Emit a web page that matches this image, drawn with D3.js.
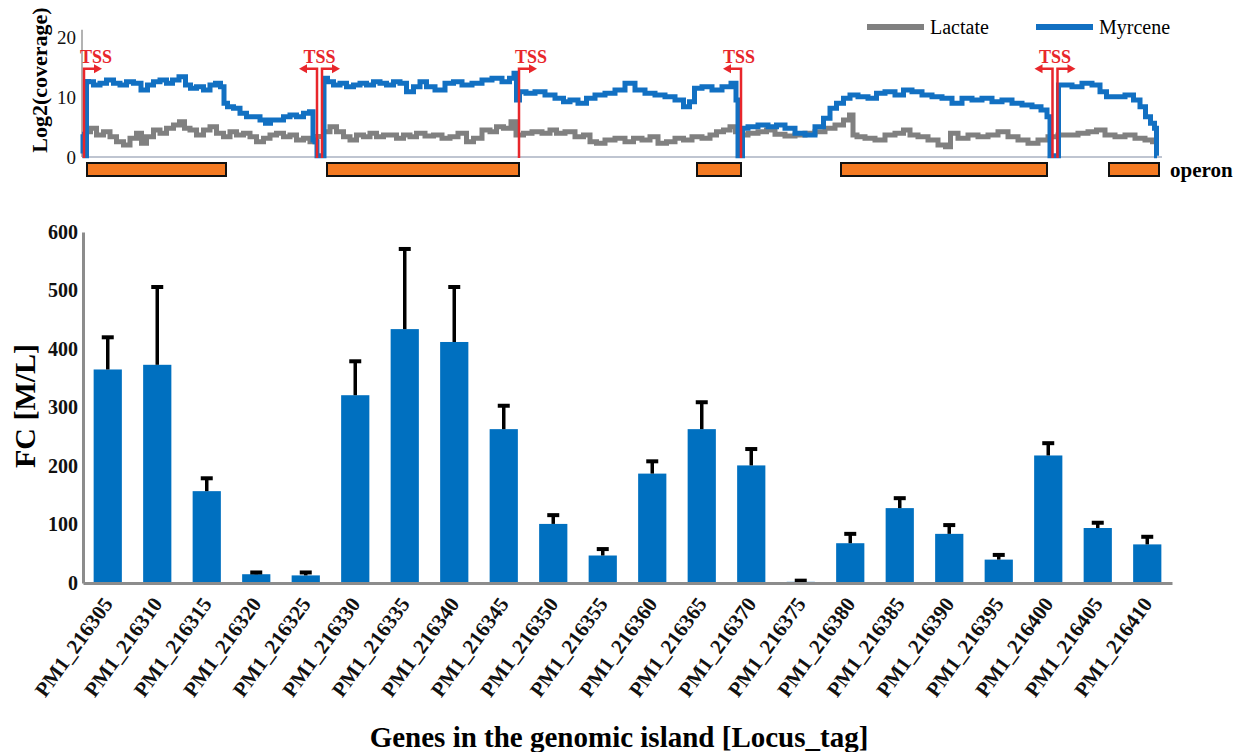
<!DOCTYPE html>
<html lang="en">
<head>
<meta charset="UTF-8">
<title>Genomic island coverage and fold change</title>
<script src="https://cdn.jsdelivr.net/npm/d3@7/dist/d3.min.js"></script>
<style>
  body { margin: 0; background: #fff; }
  svg { display: block; font-family: "Liberation Serif", "Times New Roman", serif; }
</style>
</head>
<body>
<svg id="chart" width="1237" height="752"></svg>
<script>
// ---- bar chart data ----
const genes = ["PM1_216305","PM1_216310","PM1_216315","PM1_216320","PM1_216325","PM1_216330",
  "PM1_216335","PM1_216340","PM1_216345","PM1_216350","PM1_216355","PM1_216360","PM1_216365",
  "PM1_216370","PM1_216375","PM1_216380","PM1_216385","PM1_216390","PM1_216395","PM1_216400",
  "PM1_216405","PM1_216410"];
const fc    = [365, 373, 157, 15, 13, 321, 434, 412, 263, 101, 47, 187, 263, 201, 2, 68, 128, 84, 40, 218, 94, 66];
const fcErr = [ 55, 133,  22,  3,  5,  58, 137,  94,  40,  15, 11,  21,  46,  28, 2, 16,  17, 15,  8,  21,  9, 13];
const fcTicks = [0, 100, 200, 300, 400, 500, 600];

// ---- coverage data: [position bin, log2 coverage] ----
const covTicks = [0, 10, 20];
const lactate = [[6,4.22],[11,4.78],[18,3.67],[25,4.22],[31,3.39],[38,2.56],[45,2.0],[51,3.11],[58,3.94],
  [61,2.28],[68,3.39],[75,4.5],[81,3.94],[88,4.78],[95,5.33],[100,5.89],[105,4.78],[111,4.5],[118,3.67],
  [125,4.5],[131,5.06],[138,3.94],[145,3.39],[151,4.22],[158,3.67],[165,3.94],[171,3.39],[178,2.56],
  [185,3.11],[191,3.67],[198,3.94],[205,3.39],[211,3.67],[218,2.83],[225,3.11],[231,2.56],[238,3.4],
  [245,4.22],[251,5.06],[258,4.22],[265,3.39],[271,2.83],[278,3.67],[285,3.39],[291,3.94],[298,3.39],
  [305,3.67],[311,3.67],[318,3.11],[325,3.67],[331,3.39],[338,3.94],[348,3.5],[355,3.67],[365,3.11],
  [371,3.39],[381,3.94],[388,2.56],[395,3.11],[405,4.5],[411,4.22],[418,5.06],[425,4.78],[433,5.89],
  [435,3.67],[438,3.67],[445,3.94],[455,4.22],[465,3.94],[471,4.5],[478,3.94],[488,4.22],[498,3.39],
  [505,3.67],[511,2.56],[518,2.28],[528,2.83],[538,3.11],[548,2.56],[555,3.11],[565,2.83],[571,3.39],
  [581,2.28],[588,2.56],[598,3.11],[605,2.83],[615,3.39],[625,3.11],[631,3.67],[638,4.22],[645,4.5],
  [651,5.06],[656,4.22],[661,3.67],[671,3.94],[681,4.22],[688,4.5],[698,3.8],[708,3.5],[718,3.67],
  [728,3.94],[738,4.22],[748,4.78],[758,5.33],[765,6.17],[770,7.0],[772,3.67],[778,3.39],[788,3.11],
  [798,2.83],[808,3.67],[818,3.94],[825,4.5],[831,3.67],[841,3.39],[851,2.83],[861,2.0],[866,1.72],
  [871,3.94],[881,3.11],[891,3.67],[901,3.39],[911,3.67],[921,4.22],[931,3.39],[941,2.83],[951,2.28],
  [961,2.83],[971,3.39],[981,3.67],[991,3.67],[1001,3.94],[1011,4.22],[1018,4.5],[1028,3.67],
  [1038,3.39],[1048,3.67],[1058,3.11],[1068,2.83],[1073,2.56]];
const myrcene = [[0,3.8],[2,1.0],[4,0.2],[5,12.6],[8,12.56],[15,12.0],[21,12.28],[28,12.83],[35,12.28],
  [41,12.0],[48,12.56],[55,12.28],[63,11.17],[68,12.0],[75,12.56],[81,12.83],[88,12.28],[93,12.83],
  [101,13.39],[106,12.0],[111,11.44],[118,11.72],[125,11.17],[131,12.0],[136,12.28],[141,11.72],
  [143,8.94],[148,8.39],[155,8.11],[161,7.28],[168,6.72],[175,6.72],[181,6.17],[186,5.61],[191,6.17],
  [198,6.17],[205,6.72],[211,7.0],[218,6.72],[225,7.28],[230,7.56],[232,2.83],[234,2.56],[236,0.2],
  [241,0.2],[243,13.11],[248,12.56],[255,12.0],[261,12.28],[268,11.72],[275,12.0],[281,12.28],
  [288,12.0],[295,12.56],[301,12.28],[308,12.0],[315,12.56],[321,12.28],[328,10.89],[335,11.72],
  [341,12.56],[348,11.72],[358,11.17],[368,12.28],[375,12.56],[385,12.0],[395,12.28],[405,12.83],
  [415,13.11],[425,12.56],[430,13.11],[434,13.94],[435,9.5],[440,10.89],[448,10.61],[458,10.89],
  [468,10.33],[478,9.78],[485,9.22],[491,9.5],[501,8.94],[508,9.78],[518,10.33],[528,10.61],
  [538,11.17],[548,12.28],[558,11.17],[568,10.61],[578,10.33],[588,10.06],[598,9.5],[605,8.39],
  [610,9.22],[615,11.44],[625,11.72],[635,11.17],[645,11.72],[653,12.28],[655,9.5],[657,0.2],
  [660,0.2],[661,4.78],[671,5.06],[681,5.33],[691,5.06],[698,5.33],[708,4.78],[718,3.94],[728,3.67],
  [738,5.06],[745,6.44],[751,8.11],[758,8.94],[765,9.78],[771,10.33],[781,10.06],[791,9.78],
  [798,10.61],[808,10.89],[818,10.33],[825,11.17],[835,10.89],[845,10.33],[855,10.06],[865,9.78],
  [875,8.94],[885,9.78],[895,9.5],[905,9.78],[915,9.22],[925,9.5],[935,8.94],[945,8.67],[955,8.39],
  [963,7.83],[967,6.72],[969,0.2],[976,0.2],[977,12.0],[985,12.0],[995,11.72],[1005,12.28],
  [1015,12.0],[1021,10.89],[1028,10.06],[1038,10.06],[1048,10.33],[1055,9.5],[1061,8.39],
  [1066,6.72],[1071,5.61],[1074,4.78],[1075,0.2]];
const tssSites = [
  { pos: 2, dir: "right" },
  { pos: 237.5, dir: "both" },
  { pos: 437, dir: "right" },
  { pos: 659, dir: "left" },
  { pos: 973, dir: "both" }
];
const operons = [[5, 144], [245, 437], [615, 659], [759, 965], [1027, 1077]];
const seriesNames = ["Lactate", "Myrcene"];

const svg = d3.select("#chart");
const RED = "#e8262b", GRAY = "#808080", BLUE = "#1270c2";

// ================= top panel: coverage =================
const xc = d3.scaleLinear().domain([0, 1080]).range([82, 1162]);
const yc = d3.scaleLinear().domain([0, 20]).range([157, 37]);

const topPanel = svg.append("g");

// axes lines
topPanel.append("line")
  .attr("x1", xc(0)).attr("x2", xc(0))
  .attr("y1", yc(0)).attr("y2", yc(21.2))
  .attr("stroke", "#9a9a9a").attr("stroke-width", 1.5);
topPanel.append("line")
  .attr("x1", xc(0)).attr("x2", xc(1080))
  .attr("y1", yc(0)).attr("y2", yc(0))
  .attr("stroke", "#aab2c2").attr("stroke-width", 1.5);

const yAxisTop = topPanel.append("g")
  .attr("transform", `translate(${xc(0)},0)`)
  .call(d3.axisLeft(yc).tickValues(covTicks).tickSize(0).tickPadding(6));
yAxisTop.select(".domain").remove();
yAxisTop.selectAll("text")
  .attr("font-family", "Liberation Serif, serif")
  .attr("font-size", 19).attr("fill", "#111");

topPanel.append("text")
  .attr("transform", `translate(47,80) rotate(-90)`)
  .attr("text-anchor", "middle")
  .attr("font-size", 22).attr("font-weight", "bold")
  .text("Log2(coverage)");

const covLine = d3.line()
  .x(d => xc(d[0]))
  .y(d => yc(d[1]))
  .curve(d3.curveStep);

topPanel.append("path").datum(lactate)
  .attr("d", covLine)
  .attr("fill", "none").attr("stroke", GRAY).attr("stroke-width", 5);
topPanel.append("path").datum(myrcene)
  .attr("d", covLine)
  .attr("fill", "none").attr("stroke", BLUE).attr("stroke-width", 5);

// TSS markers
const arrowY = yc(14.7);
function tssArrow(g, x0, sign) {
  g.append("path")
    .attr("d", `M${x0},${yc(0) + 1}V${arrowY}H${x0 + sign * 11}`)
    .attr("fill", "none").attr("stroke", RED).attr("stroke-width", 2.5);
  g.append("path")
    .attr("d", `M${x0 + sign * 10},${arrowY - 4.5}L${x0 + sign * 18},${arrowY}L${x0 + sign * 10},${arrowY + 4.5}Z`)
    .attr("fill", RED);
}
tssSites.forEach(s => {
  const g = topPanel.append("g");
  const x0 = xc(s.pos);
  let lx = x0;
  if (s.dir === "right") { tssArrow(g, x0, 1); lx = x0 + 12; }
  if (s.dir === "left")  { tssArrow(g, x0, -1); lx = x0 - 2; }
  if (s.dir === "both")  { tssArrow(g, x0 - 2.5, -1); tssArrow(g, x0 + 2.5, 1); }
  g.append("text")
    .attr("x", lx).attr("y", yc(15.7))
    .attr("text-anchor", "middle")
    .attr("font-size", 18).attr("font-weight", "bold")
    .attr("fill", RED)
    .text("TSS");
});

// operons
topPanel.selectAll("rect.operon").data(operons).enter().append("rect")
  .attr("class", "operon")
  .attr("x", d => xc(d[0]))
  .attr("width", d => xc(d[1]) - xc(d[0]))
  .attr("y", 163).attr("height", 13)
  .attr("fill", "#f47a22").attr("stroke", "#111").attr("stroke-width", 2);
topPanel.append("text")
  .attr("x", 1170).attr("y", 177)
  .attr("font-size", 21).attr("font-weight", "bold")
  .text("operon");

// legend
const legend = topPanel.append("g");
[[867, GRAY], [1036, BLUE]].forEach((p, i) => {
  legend.append("line")
    .attr("x1", p[0]).attr("x2", p[0] + 57)
    .attr("y1", 27).attr("y2", 27)
    .attr("stroke", p[1]).attr("stroke-width", 6);
  legend.append("text")
    .attr("x", p[0] + 63).attr("y", 34)
    .attr("font-size", 20)
    .text(seriesNames[i]);
});

// ================= bottom panel: fold change bars =================
const xb = d3.scaleBand().domain(genes).range([83, 1172])
  .paddingInner(0.43).paddingOuter(0.215);
const yb = d3.scaleLinear().domain([0, 600]).range([583, 232]);

const bot = svg.append("g");

bot.selectAll("rect.bar").data(genes).enter().append("rect")
  .attr("class", "bar")
  .attr("x", d => xb(d))
  .attr("width", xb.bandwidth())
  .attr("y", (d, i) => yb(fc[i]))
  .attr("height", (d, i) => yb(0) - yb(fc[i]))
  .attr("fill", "#0070c0");

// error bars (upper only)
const eb = bot.selectAll("g.err").data(genes).enter().append("g").attr("class", "err");
eb.append("line")
  .attr("x1", d => xb(d) + xb.bandwidth() / 2)
  .attr("x2", d => xb(d) + xb.bandwidth() / 2)
  .attr("y1", (d, i) => yb(fc[i]))
  .attr("y2", (d, i) => yb(fc[i] + fcErr[i]))
  .attr("stroke", "#000").attr("stroke-width", 3.5);
eb.append("line")
  .attr("x1", d => xb(d) + xb.bandwidth() / 2 - 6)
  .attr("x2", d => xb(d) + xb.bandwidth() / 2 + 6)
  .attr("y1", (d, i) => yb(fc[i] + fcErr[i]))
  .attr("y2", (d, i) => yb(fc[i] + fcErr[i]))
  .attr("stroke", "#000").attr("stroke-width", 4);

// y axis
const yAxisBot = bot.append("g")
  .attr("transform", `translate(83,0)`)
  .call(d3.axisLeft(yb).tickValues(fcTicks).tickSize(0).tickPadding(5));
yAxisBot.select(".domain").attr("stroke", "#8c8c8c").attr("stroke-width", 3);
yAxisBot.selectAll("text")
  .attr("font-family", "Liberation Serif, serif")
  .attr("font-size", 20).attr("font-weight", "bold").attr("fill", "#111");

// x axis
const xAxisBot = bot.append("g")
  .attr("transform", `translate(0,583)`)
  .call(d3.axisBottom(xb).tickSize(0));
xAxisBot.select(".domain").attr("stroke", "#8c8c8c").attr("stroke-width", 3);
xAxisBot.selectAll("text")
  .attr("x", 0).attr("y", 0).attr("dy", 0)
  .attr("transform", "translate(6,21) rotate(-54)")
  .attr("text-anchor", "end")
  .attr("font-family", "Liberation Serif, serif")
  .attr("font-size", 21).attr("font-weight", "bold").attr("fill", "#111");

bot.append("text")
  .attr("transform", "translate(35,406) rotate(-90)")
  .attr("text-anchor", "middle")
  .attr("font-size", 30).attr("font-weight", "bold")
  .text("FC [M/L]");

bot.append("text")
  .attr("x", 619).attr("y", 747)
  .attr("text-anchor", "middle")
  .attr("font-size", 29).attr("font-weight", "bold")
  .text("Genes in the genomic island [Locus_tag]");
</script>
</body>
</html>
